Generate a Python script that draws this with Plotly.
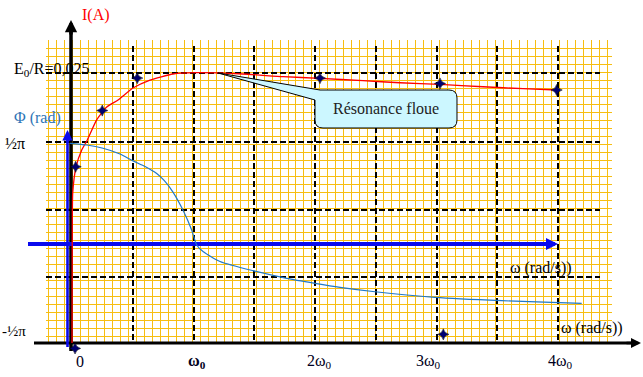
import plotly.graph_objects as go

W, H = 643, 377

# ---------------- data ----------------
# intensity curve I(omega), omega in units of omega0
omega_I = [0.0, 0.002, 0.006, 0.033, 0.080, 0.126, 0.203, 0.286, 0.379, 0.502,
           0.642, 0.831, 1.02, 1.407, 1.737, 2.041, 2.395, 2.700, 3.029, 3.383,
           3.712, 3.992]
current_I = [0.0, 0.0092, 0.01387, 0.01628, 0.01785, 0.01878, 0.02063, 0.02183,
             0.02247, 0.02358, 0.02432, 0.02488, 0.02500, 0.02488, 0.02463,
             0.02448, 0.02426, 0.02407, 0.02392, 0.02370, 0.02352, 0.02340]

# phase curve Phi(omega) in rad
omega_phi = [-0.016, 0.121, 0.255, 0.395, 0.502, 0.601, 0.697, 0.760, 0.831, 0.914,
             0.985, 1.026, 1.081, 1.218, 1.490, 1.767, 2.0, 2.206, 2.494, 2.988,
             3.537, 4.008, 4.195]
phi_rad = [1.551, 1.524, 1.474, 1.386, 1.280, 1.193, 1.085, 0.975, 0.800, 0.520,
           0.216, -0.015, -0.119, -0.269, -0.411, -0.528, -0.605, -0.667, -0.735,
           -0.821, -0.873, -0.904, -0.913]

# measured points (stars)
omega_meas = [0.030, 0.249, 0.537, 2.041, 3.029, 3.989, 0.025, 3.056]
current_meas = [0.0163, 0.0215, 0.0245, 0.0245, 0.0240, 0.0234, -0.0005, 0.0008]

# tick labels of the omega axis
tick_text = ["0", "<b>ω<sub>0</sub></b>", "2ω<sub>0</sub>", "3ω<sub>0</sub>", "4ω<sub>0</sub>"]
tick_omega = [0.066, 1.03, 2.04, 2.93, 4.02]

# dashed reference grid
dash_omega = [0.5, 1.0, 1.5, 2.0, 2.5, 3.0, 3.5, 4.0]
dash_I = [0.025, 0.0186, 0.0123, 0.0061]

E0_over_R = 0.025

# ---------------- pixel <-> axis helpers (layout only) ----------------
X0PX, XSCALE = 72.0, 121.5          # omega = 0 pixel, pixels per omega0
I0PX, ISCALE = 343.0, 10812.0       # I = 0 pixel row, pixels per ampere
P0PX, PSCALE = 244.0, 64.94         # Phi = 0 pixel row, pixels per rad


def om(px):
    return (px - X0PX) / XSCALE


def cur(py):
    return (I0PX - py) / ISCALE


def ph(py):
    return (P0PX - py) / PSCALE


def pxp(px):
    return px / W


def pyp(py):
    return 1 - py / H


SERIF = "Liberation Serif, Times New Roman, DejaVu Serif, serif"

fig = go.Figure()

# empty traces to create the two grid subplots
fig.add_trace(go.Scatter(x=[], y=[], xaxis="x", yaxis="y", showlegend=False, hoverinfo="skip"))
fig.add_trace(go.Scatter(x=[], y=[], xaxis="x2", yaxis="y2", showlegend=False, hoverinfo="skip"))

# phase curve
fig.add_trace(go.Scatter(x=omega_phi, y=phi_rad, xaxis="x3", yaxis="y4", mode="lines",
                         line=dict(color="#1f78c8", width=1.2, shape="spline", smoothing=0.6),
                         showlegend=False))
# current curve
fig.add_trace(go.Scatter(x=omega_I, y=current_I, xaxis="x3", yaxis="y3", mode="lines",
                         line=dict(color="#ff0000", width=1.3, shape="spline", smoothing=0.5),
                         showlegend=False))
# measured points
fig.add_trace(go.Scatter(x=omega_meas, y=current_meas, xaxis="x3", yaxis="y3", mode="markers",
                         marker=dict(symbol="star-diamond", size=8, color="#000070",
                                     line=dict(color="#000000", width=0.5)),
                         cliponaxis=False, showlegend=False))

noax = dict(showticklabels=False, ticks="", zeroline=False, showline=False, fixedrange=True)

fig.update_layout(
    width=W, height=H,
    margin=dict(l=0, r=0, t=0, b=0),
    paper_bgcolor="white", plot_bgcolor="rgba(0,0,0,0)",
    showlegend=False,
    # fine orange millimetre grid
    xaxis=dict(domain=[pxp(46), pxp(612)], range=[46, 612], anchor="y",
               showgrid=True, gridcolor="#F7BE12", gridwidth=1.2,
               tick0=48.3, dtick=7.99, **noax),
    yaxis=dict(domain=[pyp(344), pyp(40)], range=[344, 39.5], anchor="x",
               showgrid=True, gridcolor="#F7BE12", gridwidth=1.2,
               tick0=40.5, dtick=7.99, **noax),
    # dashed black grid
    xaxis2=dict(domain=[pxp(46), pxp(600)], range=[om(46), om(600)], anchor="y2",
                showgrid=True, gridcolor="black", gridwidth=2.2, griddash="6px,3px",
                tickvals=dash_omega, **noax),
    yaxis2=dict(domain=[pyp(343), pyp(46)], range=[cur(343), cur(46)], anchor="x2",
                showgrid=True, gridcolor="black", gridwidth=2.2, griddash="6px,3px",
                tickvals=dash_I, **noax),
    # data axes
    xaxis3=dict(domain=[0, 1], range=[om(0), om(W)], anchor="y3", visible=False, fixedrange=True),
    yaxis3=dict(domain=[0, 1], range=[cur(H), cur(0)], anchor="x3", visible=False, fixedrange=True),
    yaxis4=dict(range=[ph(H), ph(0)], anchor="x3", overlaying="y3", visible=False, fixedrange=True),
)

# ---------------- axes lines (below traces) ----------------
shapes = [
    dict(type="line", xref="x3", yref="y3", x0=om(71), x1=om(71), y0=cur(351), y1=cur(26),
         line=dict(color="black", width=3.5), layer="below"),
    dict(type="line", xref="x3", yref="y3", x0=om(34), x1=om(632), y0=0, y1=0,
         line=dict(color="black", width=3), layer="below"),
    dict(type="line", xref="x3", yref="y3", x0=om(67.5), x1=om(67.5), y0=cur(347), y1=cur(136),
         line=dict(color="#0A0AEE", width=2.6), layer="below"),
    dict(type="line", xref="x3", yref="y4", x0=om(28), x1=om(550), y0=0, y1=0,
         line=dict(color="#0A0AEE", width=4), layer="below"),
]

# callout "Résonance floue"
L, R, T, B, r = 315, 457, 90, 128, 8
pts = [("M", (L + r, T)), ("L", (R - r, T)), ("Q", (R, T), (R, T + r)), ("L", (R, B - r)),
       ("Q", (R, B), (R - r, B)), ("L", (L + r, B)), ("Q", (L, B), (L, B - r)),
       ("L", (L, 100)), ("L", (218, 73)), ("L", (320, T))]
path = ""
for item in pts:
    cmd = item[0]
    coords = " ".join(f"{pxp(x):.5f},{pyp(y):.5f}" for (x, y) in item[1:])
    path += f"{cmd}{coords} "
path += "Z"
shapes.append(dict(type="path", xref="paper", yref="paper", path=path,
                   fillcolor="#CCF7FF", line=dict(color="black", width=1), layer="above"))
fig.update_layout(shapes=shapes)

ann = []


def arrow(xt, yt, ax, ay, color, width, size):
    ann.append(dict(x=pxp(xt), y=pyp(yt), xref="paper", yref="paper", text="",
                    showarrow=True, ax=ax, ay=ay, arrowhead=2, arrowsize=size,
                    arrowwidth=width, arrowcolor=color))


arrow(71, 20, 0, 16, "black", 3.5, 0.7)
arrow(641, 343, -16, 0, "black", 2.5, 0.8)
arrow(67.5, 130, 0, 14, "#0A0AEE", 2.6, 0.8)
arrow(558, 244, -14, 0, "#0A0AEE", 4, 0.6)


def text(px, py, s, size=14, color="black", xanchor="center"):
    ann.append(dict(x=pxp(px), y=pyp(py), xref="paper", yref="paper", text=s,
                    showarrow=False, xanchor=xanchor, yanchor="middle",
                    font=dict(family=SERIF, size=size, color=color)))


text(96, 15, "I(A)", 16, "#ff0000")
text(12, 69, f"E<sub>0</sub>/R={str(E0_over_R).replace('.', ',')}", 16, "black", "left")
text(37, 118, "Φ (rad)", 16, "#2E75B6")
text(15, 143, "½π", 16)
text(14, 331, "-½π", 15)
text(541, 268, "ω (rad/s))", 16)
text(592, 328, "ω (rad/s))", 16)
text(386, 108, "Résonance floue", 16, "#222222")

for s, w in zip(tick_text, tick_omega):
    ann.append(dict(x=w, y=pyp(361), xref="x3", yref="paper", text=s, showarrow=False,
                    xanchor="center", yanchor="middle",
                    font=dict(family=SERIF, size=16, color="#000020")))

fig.update_layout(annotations=ann)

fig.write_html("out.html", config={"displayModeBar": False},
               post_script="document.body.style.margin='0';document.body.style.overflow='hidden';")
